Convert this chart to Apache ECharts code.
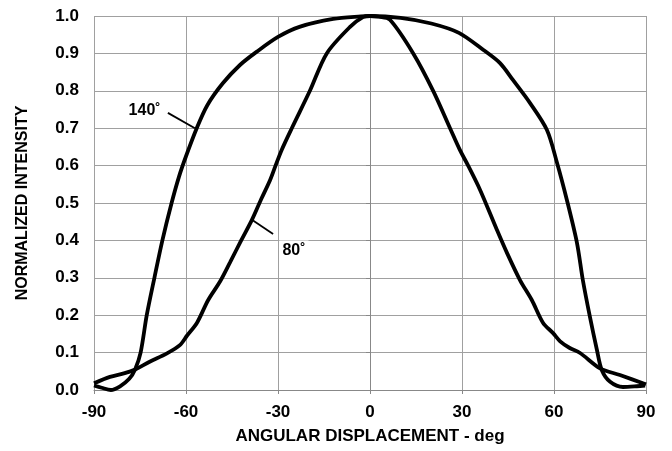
<!DOCTYPE html>
<html>
<head>
<meta charset="utf-8">
<script src="https://cdn.jsdelivr.net/npm/echarts@6/dist/echarts.min.js"></script>
<style>html,body{margin:0;padding:0;background:#fff}#c{width:672px;height:451px}</style>
</head>
<body>
<div id="c"></div>
<script>
const xTicks = [-90, -60, -30, 0, 30, 60, 90];
const yTicks = [0.0, 0.1, 0.2, 0.3, 0.4, 0.5, 0.6, 0.7, 0.8, 0.9, 1.0];

const deg140 = [-90, -87.5, -84.5, -81.5, -78.5, -76.6, -74.8, -72.8, -70.3, -67.7, -64.7, -62.3, -60, -56.5, -53, -48, -42.4, -37, -30, -23, -12, -3, 0,
  10, 20, 29, 37, 42.4, 46.6, 52.2, 57.7, 61, 64.2, 67.5, 69.4, 71.7, 74, 75.6, 78.3, 82.5, 87, 89.7];
const val140 = [0.012, 0.006, 0.0, 0.01, 0.03, 0.055, 0.10, 0.20, 0.30, 0.40, 0.50, 0.57, 0.625, 0.70, 0.762, 0.82, 0.869, 0.904, 0.944, 0.971, 0.992, 0.999, 1.0,
  0.995, 0.98, 0.955, 0.909, 0.874, 0.829, 0.767, 0.695, 0.607, 0.508, 0.393, 0.294, 0.196, 0.107, 0.053, 0.022, 0.008, 0.01, 0.012];

const deg80 = [-90, -84.8, -80, -76.6, -72, -66.2, -62, -59.7, -56.4, -52.8, -48.9, -45.6, -42, -38.5, -35.5, -32.6, -30.8, -28.8, -25.5, -19.6, -14.1, -6.5, -2.3, 0,
  3, 6.5, 14.1, 20.6, 26.1, 29.3, 32, 35.9, 41.4, 44.7, 48.9, 52.8, 56.4, 59.7, 62, 65, 68.5, 75, 81.5, 89, 90];
const val80 = [0.018, 0.035, 0.045, 0.055, 0.075, 0.098, 0.12, 0.145, 0.18, 0.24, 0.29, 0.342, 0.40, 0.455, 0.51, 0.561, 0.60, 0.642, 0.70, 0.80, 0.90, 0.971, 0.997, 1.0,
  0.998, 0.99, 0.90, 0.80, 0.70, 0.642, 0.60, 0.535, 0.428, 0.366, 0.294, 0.24, 0.18, 0.152, 0.13, 0.113, 0.099, 0.058, 0.04, 0.018, 0.015];

const labels = ['140˚', '80˚'];
const labelPos = [[-73.5, 0.748], [-24.8, 0.373]];
const leaders = [[[-65.9, 0.741], [-57.1, 0.70]], [[-38.5, 0.455], [-31.6, 0.417]]];

const FONT = 'Liberation Sans, Arial, sans-serif';
const FS = 17;
const chart = echarts.init(document.getElementById('c'), null, {renderer: 'canvas'});

function pairs(xs, ys) { return xs.map((x, i) => [x, ys[i]]); }

function series(name, xs, ys, idx) {
  return {
    name: name, type: 'line', smooth: 0.3, symbol: 'none',
    data: pairs(xs, ys),
    lineStyle: {color: '#000', width: 3.8},
    z: 3,
    markLine: {
      silent: true, symbol: 'none', animation: false,
      lineStyle: {color: '#000', width: 1.8, type: 'solid'},
      label: {show: false},
      data: [[{coord: leaders[idx][0]}, {coord: leaders[idx][1]}]]
    },
    markPoint: {
      silent: true, symbol: 'rect', symbolSize: 1, animation: false,
      itemStyle: {color: 'rgba(0,0,0,0)'},
      label: {show: true, position: 'inside', formatter: labels[idx], color: '#000',
        fontFamily: FONT, fontWeight: 'bold', fontSize: FS - 1, backgroundColor: '#fff', padding: [2, 3]},
      data: [{coord: labelPos[idx]}]
    }
  };
}

chart.setOption({
  animation: false,
  backgroundColor: '#fff',
  grid: {left: 94, right: 26, top: 16, bottom: 61},
  xAxis: {
    type: 'value', min: -90, max: 90, interval: 30,
    name: 'ANGULAR DISPLACEMENT - deg', nameLocation: 'middle', nameGap: 38,
    nameTextStyle: {fontFamily: FONT, fontWeight: 'bold', fontSize: FS, color: '#000'},
    axisLine: {lineStyle: {color: '#888', width: 1}},
    axisTick: {show: true, length: 4, lineStyle: {color: '#888'}},
    axisLabel: {fontFamily: FONT, fontWeight: 'bold', fontSize: FS, color: '#000', margin: 14,
      formatter: v => xTicks.includes(v) ? String(v) : ''},
    splitLine: {show: true, lineStyle: {color: '#a0a0a0', width: 1}}
  },
  yAxis: {
    type: 'value', min: 0, max: 1, interval: 0.1,
    name: 'NORMALIZED INTENSITY', nameLocation: 'middle', nameGap: 63, nameRotate: 90,
    nameTextStyle: {fontFamily: FONT, fontWeight: 'bold', fontSize: FS - 1, color: '#000'},
    axisLine: {show: true, lineStyle: {color: '#888', width: 1}},
    axisTick: {show: true, length: 4, lineStyle: {color: '#888'}},
    axisLabel: {fontFamily: FONT, fontWeight: 'bold', fontSize: FS, color: '#000', margin: 15,
      formatter: v => { const t = yTicks.find(k => Math.abs(k - v) < 1e-6); return t === undefined ? '' : t.toFixed(1); }},
    splitLine: {show: true, lineStyle: {color: '#a0a0a0', width: 1}}
  },
  series: [
    series('140', deg140, val140, 0),
    series('80', deg80, val80, 1)
  ]
});
</script>
</body>
</html>
